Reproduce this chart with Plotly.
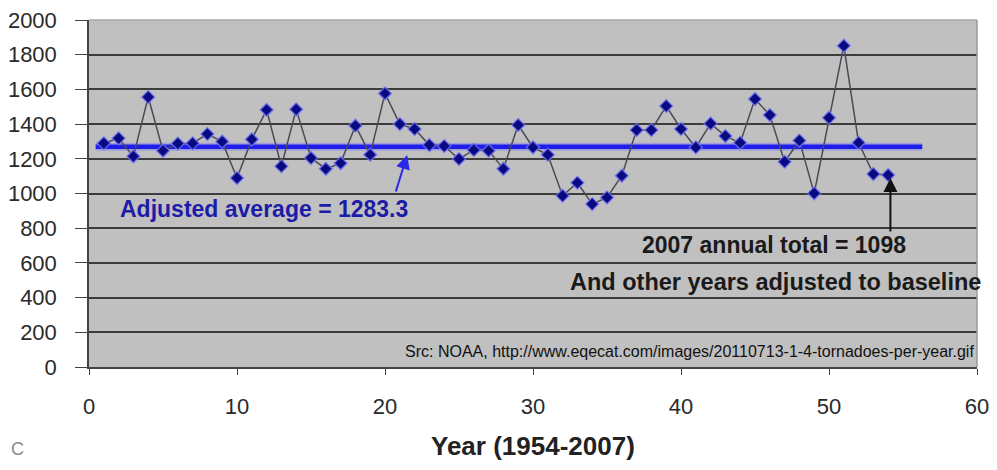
import plotly.graph_objects as go

# Data
years_idx = list(range(1, 55))
tornado_counts = [
    1290, 1318, 1214, 1556, 1247, 1288, 1290, 1343, 1299, 1089,
    1312, 1482, 1157, 1485, 1205, 1142, 1175, 1391, 1224, 1577,
    1400, 1372, 1279, 1274, 1199, 1251, 1247, 1142, 1395, 1266,
    1223, 987, 1062, 939, 977, 1103, 1366, 1366, 1504, 1372,
    1266, 1403, 1331, 1292, 1545, 1452, 1183, 1305, 1001, 1437,
    1852, 1292, 1112, 1107,
]
avg_line_x = [0.45, 56.3]
avg_line_y = [1270, 1270]
x_ticks = [0, 10, 20, 30, 40, 50, 60]
y_ticks = [0, 200, 400, 600, 800, 1000, 1200, 1400, 1600, 1800, 2000]

FONT = "Liberation Sans, Arial, sans-serif"

fig = go.Figure()

# average line with a soft halo
fig.add_trace(go.Scatter(x=avg_line_x, y=avg_line_y, mode="lines",
                         line=dict(color="rgba(110,110,255,0.4)", width=8),
                         hoverinfo="skip", showlegend=False))
fig.add_trace(go.Scatter(x=avg_line_x, y=avg_line_y, mode="lines",
                         line=dict(color="rgb(30,30,235)", width=4.5),
                         showlegend=False))

# yearly totals
fig.add_trace(go.Scatter(
    x=years_idx, y=tornado_counts, mode="lines+markers",
    line=dict(color="#4a4a55", width=1.5),
    marker=dict(symbol="diamond", size=10, color="#0a0a80",
                line=dict(color="rgba(120,120,255,0.7)", width=1.5)),
    showlegend=False,
))

annotations = [
    dict(x=11.8, y=911, xref="x", yref="y", text="<b>Adjusted average = 1283.3</b>",
         showarrow=False, font=dict(family=FONT, size=23, color="#1c1ca8")),
    dict(x=21.5, y=1222, ax=20.7, ay=1003, xref="x", yref="y", axref="x", ayref="y",
         text="", showarrow=True, arrowhead=2, arrowsize=1.4, arrowwidth=2,
         arrowcolor="rgb(40,40,230)"),
    dict(x=54.15, y=1089, ax=54.15, ay=772, xref="x", yref="y", axref="x", ayref="y",
         text="", showarrow=True, arrowhead=2, arrowsize=1.4, arrowwidth=2,
         arrowcolor="#111"),
    dict(x=46.28, y=703, xref="x", yref="y", text="<b>2007 annual total = 1098</b>",
         showarrow=False, font=dict(family=FONT, size=23, color="#1a1a1a")),
    dict(x=46.4, y=490, xref="x", yref="y",
         text="<b>And other years adjusted to baseline</b>",
         showarrow=False, font=dict(family=FONT, size=23.5, color="#1a1a1a")),
    dict(x=40.6, y=92, xref="x", yref="y",
         text="Src: NOAA, http://www.eqecat.com/images/20110713-1-4-tornadoes-per-year.gif",
         showarrow=False, font=dict(family=FONT, size=16, color="#111")),
    # x-axis title, placed as low as the page allows
    dict(x=0.5, y=-0.2738, xref="paper", yref="paper", xanchor="center", yanchor="bottom",
         text="<b>Year (1954-2007)</b>", showarrow=False, borderpad=0,
         font=dict(family=FONT, size=26, color="#222")),
    dict(x=-0.0905, y=-0.235, xref="paper", yref="paper", xanchor="left", yanchor="middle",
         text="C", showarrow=False, font=dict(family=FONT, size=18, color="#8a8a8a")),
]

shapes = [
    dict(type="line", xref="paper", yref="paper", x0=1, x1=1, y0=0, y1=1,
         line=dict(color="#9a9a9a", width=1.5)),
    dict(type="line", xref="paper", yref="paper", x0=0, x1=1, y0=1, y1=1,
         line=dict(color="#a8a8a8", width=1.5)),
]

# The page adds an 8px body margin, so the figure is sized/offset to compensate.
fig.update_layout(
    width=981, height=454,
    margin=dict(l=80.5, r=12, t=12, b=95, autoexpand=False),
    paper_bgcolor="white", plot_bgcolor="#c0c0c0",
    font=dict(family=FONT, color="#222"),
    annotations=annotations, shapes=shapes,
    xaxis=dict(range=[0, 60], tickvals=x_ticks, showgrid=False, zeroline=False,
               showline=True, linecolor="#444", linewidth=1.5,
               ticks="outside", ticklen=6, tickcolor="#444",
               ticklabelstandoff=13, automargin=False, ticklabeloverflow="allow",
               tickfont=dict(family=FONT, size=22, color="#2a2a2a")),
    yaxis=dict(range=[0, 2000], tickvals=y_ticks, showgrid=True,
               gridcolor="#3c3c3c", gridwidth=1.5, zeroline=False,
               showline=True, linecolor="#444", linewidth=1.5,
               ticks="outside", ticklen=12, tickcolor="#444",
               ticklabelstandoff=14, automargin=False, ticklabeloverflow="allow",
               tickfont=dict(family=FONT, size=22, color="#2a2a2a")),
)

fig.write_html("out.html")
